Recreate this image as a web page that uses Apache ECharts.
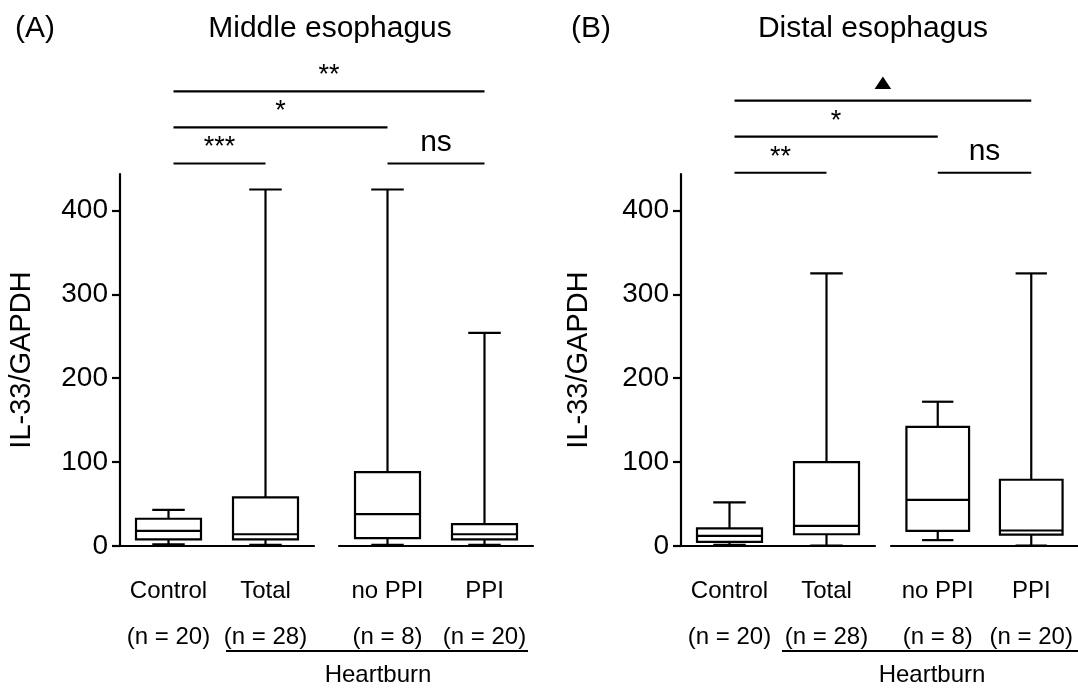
<!DOCTYPE html>
<html><head><meta charset="utf-8">
<script src="https://cdn.jsdelivr.net/npm/echarts@6/dist/echarts.min.js"></script>
<style>html,body{margin:0;padding:0;background:#fff}#c{width:1078px;height:694px}</style>
</head><body><div id="c"></div>
<script>
// ---- data ----
const catsLeft = ['Control', 'Total'];
const catsRight = ['no PPI', 'PPI'];
const nLeft = ['(n = 20)', '(n = 28)'];
const nRight = ['(n = 8)', '(n = 20)'];
const yTicks = [0, 100, 200, 300, 400];
// Middle esophagus (Control, Total, no PPI, PPI)
const midMin = [2, 1.5, 1.5, 1.5];
const midQ1 = [8, 8, 9.5, 8];
const midMed = [18, 14, 38, 14];
const midQ3 = [32.5, 58, 88, 26];
const midMax = [43, 425, 425, 254];
// Distal esophagus
const disMin = [1.5, 0.5, 7, 0.5];
const disQ1 = [5, 14, 18, 13.5];
const disMed = [12, 24, 55, 18.5];
const disQ3 = [21, 100, 142, 79];
const disMax = [52, 325, 172, 325];
// significance brackets: from, to, level, label
const midSig = [['Control', 'PPI', 542, '**'], ['Control', 'no PPI', 499, '*'], ['Control', 'Total', 456, '***'], ['no PPI', 'PPI', 456, 'ns']];
const disSig = [['Control', 'PPI', 531, '▲'], ['Control', 'no PPI', 488, '*'], ['Control', 'Total', 445, '**'], ['no PPI', 'PPI', 445, 'ns']];

// ---- chart ----
const FONT = 'Liberation Sans, Arial, sans-serif';
const chart = echarts.init(document.getElementById('c'), null, {renderer: 'canvas'});
const Y_MAX = 443.5;
const TOP = 174, HEIGHT = 372;
const gridDefs = [
  {left: 120, width: 194}, {left: 339, width: 194},
  {left: 681, width: 194}, {left: 891, width: 194}
];

function rows(mn, q1, md, q3, mx, start) {
  return [0, 1].map(i => [i, mn[start + i], q1[start + i], md[start + i], q3[start + i], mx[start + i]]);
}

function renderBox(params, api) {
  const cat = api.value(0);
  const band = api.size([1, 0])[0];
  const w = band * 0.67;
  const x = api.coord([cat, 0])[0];
  const y = v => api.coord([cat, v])[1];
  const mn = y(api.value(1)), q1 = y(api.value(2)), md = y(api.value(3)), q3 = y(api.value(4)), mx = y(api.value(5));
  const st = {stroke: '#000', lineWidth: 2.2, fill: null};
  return {type: 'group', children: [
    {type: 'line', shape: {x1: x, y1: q3, x2: x, y2: mx}, style: st},
    {type: 'line', shape: {x1: x - w / 4, y1: mx, x2: x + w / 4, y2: mx}, style: st},
    {type: 'line', shape: {x1: x, y1: q1, x2: x, y2: mn}, style: st},
    {type: 'line', shape: {x1: x - w / 4, y1: mn, x2: x + w / 4, y2: mn}, style: st},
    {type: 'rect', shape: {x: x - w / 2, y: q3, width: w, height: q1 - q3}, style: {stroke: '#000', lineWidth: 2.2, fill: '#fff'}},
    {type: 'line', shape: {x1: x - w / 2, y1: md, x2: x + w / 2, y2: md}, style: st}
  ]};
}

const cats = [catsLeft, catsRight, catsLeft, catsRight];
const ns = [nLeft, nRight, nLeft, nRight];
const series = [
  rows(midMin, midQ1, midMed, midQ3, midMax, 0),
  rows(midMin, midQ1, midMed, midQ3, midMax, 2),
  rows(disMin, disQ1, disMed, disQ3, disMax, 0),
  rows(disMin, disQ1, disMed, disQ3, disMax, 2)
].map((d, i) => ({
  type: 'custom', xAxisIndex: i, yAxisIndex: i, clip: false, z: 5,
  renderItem: renderBox, data: d
}));

const titleStyle = {fontFamily: FONT, fontSize: 30, fontWeight: 'normal', color: '#000'};
const option = {
  animation: false,
  backgroundColor: '#fff',
  title: [
    {text: '(A)', left: 10, top: 9, textStyle: titleStyle},
    {text: 'Middle esophagus', left: 325, top: 9, textAlign: 'center', textStyle: titleStyle},
    {text: '(B)', left: 566, top: 9, textStyle: titleStyle},
    {text: 'Distal esophagus', left: 868, top: 9, textAlign: 'center', textStyle: titleStyle}
  ],
  grid: gridDefs.map(g => ({left: g.left, width: g.width, top: TOP, height: HEIGHT, containLabel: false})),
  xAxis: cats.map((c, i) => ({
    type: 'category', gridIndex: i, data: c,
    axisLine: {show: true, lineStyle: {color: '#000', width: 2.2}},
    axisTick: {show: false},
    axisLabel: {
      interval: 0, margin: 22, color: '#000', fontFamily: FONT, fontSize: 24, lineHeight: 46,
      formatter: (v, idx) => v + '\n' + ns[i][idx]
    },
    splitLine: {show: false}
  })),
  yAxis: [0, 1, 2, 3].map(i => {
    const shown = (i % 2 === 0);
    return {
      type: 'value', gridIndex: i, min: 0, max: Y_MAX,
      show: shown,
      name: shown ? 'IL-33/GAPDH' : '',
      nameLocation: 'middle', nameRotate: 90, nameGap: i === 0 ? 84 : 88,
      nameTextStyle: {fontFamily: FONT, fontSize: 29, color: '#000'},
      axisLine: {show: true, lineStyle: {color: '#000', width: 2.2}},
      axisTick: {show: true, length: 8, lineStyle: {color: '#000', width: 2.2}, customValues: yTicks},
      axisLabel: {show: true, margin: 12, color: '#000', fontFamily: FONT, fontSize: 28, customValues: yTicks},
      splitLine: {show: false}
    };
  }),
  series: series
};
chart.setOption(option);

// ---- annotations (brackets, Heartburn) ----
function catPos(name, panel, value) {
  let g, idx;
  if (catsLeft.indexOf(name) >= 0) { g = panel * 2; idx = catsLeft.indexOf(name); }
  else { g = panel * 2 + 1; idx = catsRight.indexOf(name); }
  return chart.convertToPixel({xAxisIndex: g, yAxisIndex: g}, [idx, value]);
}
const gfx = [];
[midSig, disSig].forEach((sig, panel) => {
  sig.forEach(s => {
    const p1 = catPos(s[0], panel, s[2]);
    const p2 = catPos(s[1], panel, s[2]);
    const x1 = p1[0] + (s[0] === 'Control' ? 5 : 0);
    const x2 = p2[0];
    const yl = p1[1];
    gfx.push({type: 'line', shape: {x1: x1, y1: yl, x2: x2, y2: yl}, style: {stroke: '#000', lineWidth: 2.2}, z: 10});
    const cx = (x1 + x2) / 2;
    if (s[3] === '▲') {
      gfx.push({type: 'polygon', shape: {points: [[cx, yl - 24], [cx - 8.3, yl - 11.5], [cx + 8.3, yl - 11.5]]}, style: {fill: '#000'}, z: 10});
    } else if (s[3] === 'ns') {
      gfx.push({type: 'text', x: cx, y: yl - 6, style: {text: 'ns', fontFamily: FONT, fontSize: 30, fill: '#000', align: 'center', verticalAlign: 'bottom'}, z: 10});
    } else {
      gfx.push({type: 'text', x: cx, y: yl - 2, style: {text: s[3], fontFamily: FONT, fontSize: 27, fill: '#000', align: 'center', verticalAlign: 'bottom'}, z: 10});
    }
  });
});
// Heartburn group labels
[[226, 528, 378], [782, 1090, 932]].forEach(h => {
  gfx.push({type: 'line', shape: {x1: h[0], y1: 651, x2: h[1], y2: 651}, style: {stroke: '#000', lineWidth: 2.2}});
  gfx.push({type: 'text', x: h[2], y: 675, style: {text: 'Heartburn', fontFamily: FONT, fontSize: 24, fill: '#000', align: 'center', verticalAlign: 'middle'}});
});
chart.setOption({graphic: gfx});
</script>
</body></html>
